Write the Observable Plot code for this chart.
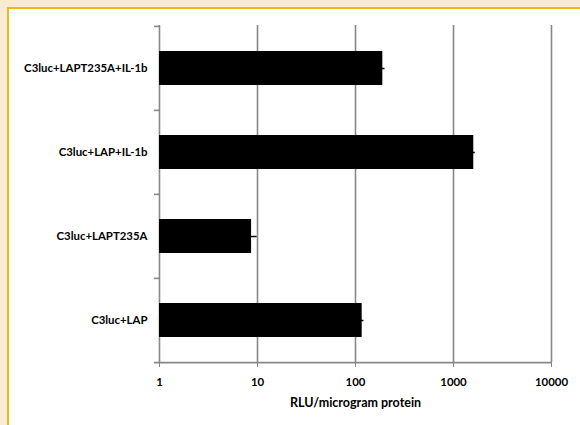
<!DOCTYPE html>
<html>
<head>
<meta charset="utf-8">
<script src="https://cdn.jsdelivr.net/npm/d3@7"></script>
<script src="https://cdn.jsdelivr.net/npm/@observablehq/plot@0.6"></script>
<style>
  html, body { margin: 0; padding: 0; width: 580px; height: 425px; overflow: hidden; background: #fbecd1; }
  #frame { position: absolute; left: 7px; top: 7px; width: 620px; height: 460px;
           border-left: 2px solid #f1b71c; border-top: 2px solid #f1b71c; background: #fff; }
  #chart svg { display: block; }
</style>
</head>
<body>
<div id="frame"><div id="chart"></div></div>
<script>
const categories = ["C3luc+LAPT235A+IL-1b", "C3luc+LAP+IL-1b", "C3luc+LAPT235A", "C3luc+LAP"];
const values = [190, 1610, 8.7, 117];
const errors = [10, 60, 1.2, 5];
const xTicks = [1, 10, 100, 1000, 10000];
const xLabel = "RLU/microgram protein";

const data = categories.map((name, i) => ({name, value: values[i], err: errors[i]}));
const grid = "#878787";
const half = 42.125; // half band step

const chart = Plot.plot({
  width: 571,
  height: 416,
  marginLeft: 150,
  marginRight: 29,
  marginTop: 16,
  marginBottom: 63,
  style: {background: "#fff", fontFamily: "Lato, 'Open Sans', sans-serif", fontSize: "11.4px", fontWeight: "bold", color: "#000"},
  x: {type: "log", domain: [1, 10000]},
  y: {domain: categories, paddingInner: 0.6, paddingOuter: 0.3},
  marks: [
    Plot.ruleX(xTicks, {stroke: grid, strokeWidth: 1.6}),
    Plot.barX(data, {x1: () => 1, x2: "value", y: "name", fill: "#000"}),
    Plot.ruleY(data, {y: "name", x1: d => d.value - d.err, x2: d => d.value + d.err, stroke: "#000", strokeWidth: 1.5}),
    Plot.ruleX(data, {x: d => d.value + d.err, y: "name", insetTop: 13, insetBottom: 13, stroke: "#000", strokeWidth: 1.5}),
    Plot.ruleY(categories, {y: d => d, dy: -half, x1: () => 1, x2: () => 1, insetLeft: -5, stroke: grid, strokeWidth: 1.6}),
    Plot.ruleY([categories[categories.length - 1]], {y: d => d, dy: half, x1: () => 1, x2: () => 10000, insetLeft: -5, stroke: grid, strokeWidth: 1.6}),
    Plot.axisX({ticks: xTicks, tickFormat: d => String(d), tickSize: 5, tickPadding: 10, stroke: grid, fill: "#000", label: null}),
    Plot.axisY({tickSize: 0, tickPadding: 12, label: null, fill: "#000"}),
    Plot.text([xLabel], {frameAnchor: "bottom", dy: 44, fill: "#000", fontWeight: "bold", fontSize: 12.5})
  ]
});
document.getElementById("chart").appendChild(chart);
</script>
</body>
</html>
